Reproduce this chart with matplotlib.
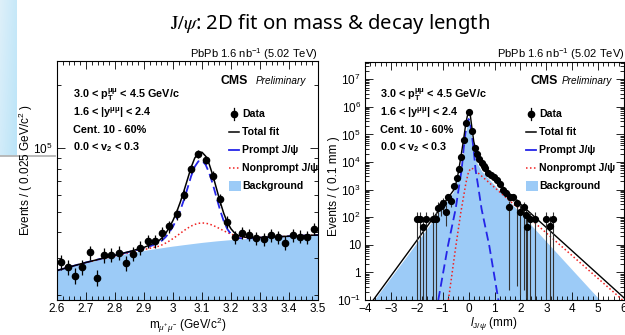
import numpy as np
import matplotlib.pyplot as plt
from matplotlib.lines import Line2D
from matplotlib.patches import Rectangle
from matplotlib.ticker import (MultipleLocator, LogLocator, FixedLocator,
                               FixedFormatter, NullFormatter, FuncFormatter)

plt.rcParams['font.family'] = ['Liberation Sans', 'DejaVu Sans']
plt.rcParams['mathtext.fontset'] = 'custom'
plt.rcParams['mathtext.rm'] = 'Liberation Sans'
plt.rcParams['mathtext.it'] = 'Liberation Sans:italic'
plt.rcParams['mathtext.bf'] = 'Liberation Sans:bold'

# ---- dimuon mass fit (events / 0.025 GeV/c^2) ----
mass_bins = [2.6125, 2.6375, 2.6625, 2.6875, 2.7125, 2.7375, 2.7625, 2.7875, 2.8125,
             2.8375, 2.8625, 2.8875, 2.9125, 2.9375, 2.9625, 2.9875, 3.0125, 3.0375,
             3.0625, 3.0875, 3.1125, 3.1375, 3.1625, 3.1875, 3.2125, 3.2375, 3.2625,
             3.2875, 3.3125, 3.3375, 3.3625, 3.3875, 3.4125, 3.4375, 3.4625, 3.4875]
mass_counts = [28700, 27200, 24800, 27200, 32000, 24200, 31000, 31100, 31800,
               28400, 31500, 33700, 36100, 36100, 39400, 42500, 48700, 60000,
               79700, 94400, 88400, 74100, 57100, 44800, 37800, 39600, 38800,
               37400, 37000, 38700, 37800, 35500, 38700, 38000, 37700, 41300]
mass_err = [2300, 2200, 2100, 2200, 2400, 2100, 2400, 2400, 2400,
            2300, 2400, 2500, 2600, 2600, 2700, 2800, 3000, 3300,
            3800, 4100, 4000, 3700, 3200, 2900, 2700, 2700, 2700,
            2700, 2600, 2700, 2700, 2600, 2700, 2700, 2700, 2800]

mass_grid = [2.60, 2.65, 2.70, 2.75, 2.80, 2.85, 2.90, 2.925,
             2.95, 2.9625, 2.975, 2.9875, 3.0, 3.0125, 3.025, 3.0375, 3.05, 3.0625,
             3.075, 3.0875, 3.1, 3.1125, 3.125, 3.1375, 3.15, 3.1625, 3.175, 3.1875,
             3.2, 3.2125, 3.225,
             3.25, 3.275, 3.3, 3.35, 3.4, 3.45, 3.5]
mass_bkg = [26200, 27400, 28600, 29700, 30800, 31800, 32700, 33100,
            33500, 33700, 33900, 34100, 34300, 34470, 34650, 34830, 35000, 35180,
            35350, 35530, 35700, 35850, 36000, 36150, 36300, 36430, 36550, 36680,
            36800, 36900, 37000,
            37200, 37400, 37600, 37900, 38200, 38450, 38700]
mass_prompt = [30, 40, 60, 100, 200, 400, 800, 1300,
               2000, 2800, 4000, 5800, 8200, 11500, 16000, 22000, 29500, 38500,
               46400, 51200, 51600, 47700, 40300, 31200, 22100, 14300, 8500, 4600,
               2300, 1000, 400,
               60, 10, 0, 0, 0, 0, 0]
mass_nonprompt = [0, 0, 0, 0, 10, 100, 300, 500,
                  710, 1060, 1550, 2170, 2920, 3800, 4760, 5750, 6690, 7500,
                  8110, 8440, 8470, 8200, 7640, 6860, 5940, 4960, 3990, 3090,
                  2310, 1660, 1150,
                  500, 220, 80, 10, 0, 0, 0]

# ---- pseudo-proper decay length fit (events / 0.1 mm) ----
ctau_x = [-1.98, -1.88, -1.77, -1.65, -1.36, -1.25, -1.17, -1.07, -0.97, -0.88,
          -0.78, -0.68, -0.56, -0.46, -0.37, -0.28, -0.19, -0.09, 0.01, 0.12,
          0.24, 0.34, 0.42, 0.50, 0.58, 0.65, 0.74, 0.85, 0.97, 1.08,
          1.20, 1.33, 1.44, 1.56, 1.58, 1.70, 1.86, 1.98, 2.13, 2.20,
          2.27, 2.37, 2.56, 2.99, 3.14, 3.27]
ctau_y = [85, 85, 45, 85, 85, 85, 220, 260, 320, 160,
          520, 380, 1300, 2700, 5500, 15000, 65000, 250000, 660000, 130000,
          32000, 19000, 13000, 9400, 7000, 5900, 3900, 3400, 2800, 2200,
          1600, 980, 780, 240, 550, 550, 316, 158, 230, 120,
          45, 85, 85, 85, 50, 85]
ctau_err_lo = [85, 85, 45, 85, 85, 85, 150, 150, 160, 110,
               150, 140, 250, 350, 500, 800, 1700, 3300, 5500, 2400,
               1200, 900, 750, 650, 550, 500, 420, 390, 360, 320,
               270, 210, 190, 240, 160, 160, 316, 158, 230, 120,
               45, 85, 85, 85, 50, 85]
ctau_err_hi = [75, 75, 60, 75, 75, 75, 150, 150, 160, 110,
               150, 140, 250, 350, 500, 800, 1700, 3300, 5500, 2400,
               1200, 900, 750, 650, 550, 500, 420, 390, 360, 320,
               270, 210, 190, 150, 160, 160, 130, 110, 130, 100,
               60, 75, 75, 75, 60, 75]

ctau_bkg_x = [-3.65, -2.0, -1.0, -0.6, -0.4, -0.25, -0.12, -0.05, 0.0, 0.05,
              0.12, 0.2, 0.3, 0.5, 2.0, 5.07]
ctau_bkg_y = [0.1, 12, 240, 800, 2500, 12000, 80000, 300000, 450000, 300000,
              80000, 25000, 10000, 4700, 138, 0.1]
ctau_tot_x = [-3.68, -0.53, -0.4, -0.3, -0.2, -0.1, 0.0, 0.05, 0.1, 0.2,
              0.3, 0.5, 0.75, 1.0, 1.5, 2.0, 6.0]
ctau_tot_y = [0.1, 1100, 4000, 15000, 60000, 280000, 750000, 650000, 280000, 55000,
              23000, 9000, 4500, 2600, 850, 300, 0.12]
ctau_pr_x = [-1.17, -0.8, -0.5, -0.36, -0.27, -0.2, -0.12, -0.06, 0.0, 0.06,
             0.12, 0.2, 0.27, 0.36, 0.5, 0.8, 1.15]
ctau_pr_y = [0.1, 9, 200, 1500, 5100, 25000, 110000, 250000, 360000, 250000,
             110000, 25000, 5100, 1500, 200, 9, 0.1]
ctau_np_x = [-0.78, -0.5, -0.3, -0.1, 0.0, 0.1, 0.2, 6.0]
ctau_np_y = [0.1, 8, 150, 1800, 4500, 6000, 5500, 0.09]

ctau_ticks = [0.1, 1, 10, 1e2, 1e3, 1e4, 1e5, 1e6, 1e7]
ctau_ticklabels = ['$10^{-1}$', '1', '10', '$10^{2}$', '$10^{3}$', '$10^{4}$',
                   '$10^{5}$', '$10^{6}$', '$10^{7}$']

cut_lines = [r'3.0 < $\mathbf{p}_{\mathbf{T}}^{\mathbf{\mu\mu}}$ < 4.5 GeV/c',
             r'1.6 < |$\mathbf{y}^{\mathbf{\mu\mu}}$| < 2.4',
             'Cent. 10 - 60%',
             r'0.0 < $\mathbf{v}_{\mathbf{2}}$ < 0.3']
legend_labels = ['Data', 'Total fit', 'Prompt J/ψ', 'Nonprompt J/ψ', 'Background']

BKG_COLOR = '#9ccbf7'
BLUE = '#2424e8'
RED = '#f02020'

W, H = 625, 335


def fx(px):
    return px / W


def fy(py):
    return 1 - py / H


fig = plt.figure(figsize=(W / 100, H / 100), dpi=100)

# slide decoration on the left edge
bg = fig.add_axes([0, 0, 1, 1], zorder=-10)
bg.axis('off')
gx = np.linspace(0, 1, 32)[None, :]
gy = np.linspace(0, 1, 64)[:, None]
top = np.array([222, 240, 250]) / 255
bot = np.array([186, 228, 248]) / 255
strip = top + (bot - top) * (0.35 * gy + 0.65 * gx)[..., None]
bg.imshow(strip, extent=(0, 17, 156, 0), aspect='auto', interpolation='bilinear')
bg.plot([0, 55], [156, 156], color='#b4b4b4', lw=1.3)
bg.set_xlim(0, W)
bg.set_ylim(H, 0)

fig.text(fx(330), fy(24), r'$\mathrm{J}/\psi$' + ': 2D fit on mass & decay length',
         ha='center', va='center', fontsize=14.6, family='Noto Sans',
         math_fontfamily='stix')


def style_axes(ax):
    for sp in ax.spines.values():
        sp.set_linewidth(0.8)
    ax.tick_params(which='both', direction='in', top=True, right=True,
                   width=0.6, labelsize=8.5)
    ax.tick_params(axis='x', pad=2.5)
    ax.tick_params(axis='y', pad=3)
    ax.tick_params(which='major', length=6)
    ax.tick_params(which='minor', length=3)


def draw_texts(x_cut, x_leg, right_edge, cms_right, prelim_right):
    fig.text(fx(right_edge), fy(54), r'PbPb 1.6 nb$^{-1}$ (5.02 TeV)',
             ha='right', va='center', fontsize=8)
    fig.text(fx(cms_right), fy(81), 'CMS', ha='right', va='center',
             fontsize=8.8, weight='bold')
    fig.text(fx(prelim_right), fy(81), 'Preliminary', ha='right', va='center',
             fontsize=7.2, style='italic')
    for i, s in enumerate(cut_lines):
        fig.text(fx(x_cut), fy(95 + 17.5 * i), s, ha='left', va='center',
                 fontsize=7.8, weight='bold')
    rows = [114, 132, 150, 168, 186]
    for y, s in zip(rows, legend_labels):
        fig.text(fx(x_leg), fy(y), s, ha='left', va='center', fontsize=7.6,
                 weight='bold')
    hx0, hx1 = x_leg - 13, x_leg - 3
    hm = (hx0 + hx1) / 2
    tr = fig.transFigure
    fig.add_artist(Line2D([fx(hm)], [fy(rows[0])], marker='o', ms=4.5,
                          color='k', transform=tr))
    fig.add_artist(Line2D([fx(hm), fx(hm)], [fy(rows[0] - 6), fy(rows[0] + 6)],
                          color='k', lw=0.9, transform=tr))
    fig.add_artist(Line2D([fx(hx0), fx(hx1)], [fy(rows[1])] * 2, color='k',
                          lw=1.1, transform=tr))
    fig.add_artist(Line2D([fx(hx0), fx(hx1)], [fy(rows[2])] * 2, color=BLUE,
                          lw=1.3, transform=tr))
    fig.add_artist(Line2D([fx(hx0), fx(hx1)], [fy(rows[3])] * 2, color=RED,
                          lw=1.1, ls=(0, (1, 1.6)), transform=tr))
    fig.add_artist(Rectangle((fx(hx0), fy(rows[4] + 5)), fx(12), 10 / H,
                             color=BKG_COLOR, lw=0, transform=tr))


# ---- left panel: mass ----
axL = fig.add_axes([fx(57), fy(300), fx(318 - 57), (300 - 61) / H])
bkg = np.array(mass_bkg)
pr = np.array(mass_prompt)
npr = np.array(mass_nonprompt)
axL.fill_between(mass_grid, 1e3, bkg, color=BKG_COLOR, lw=0)
axL.plot(mass_grid, bkg + npr, color=RED, lw=1.1, ls=(0, (1, 1.6)))
axL.plot(mass_grid, bkg + pr, color=BLUE, lw=1.3, ls=(0, (5, 2.5)))
axL.plot(mass_grid, bkg + pr + npr, color='k', lw=1.1)
axL.errorbar(mass_bins, mass_counts, yerr=mass_err, fmt='o', color='k', ms=4.5,
             elinewidth=0.9, capsize=0)
axL.set_yscale('log')
axL.set_xlim(2.6, 3.5)
axL.set_ylim(1.9e4, 2.6e5)
axL.xaxis.set_major_locator(MultipleLocator(0.1))
axL.xaxis.set_minor_locator(MultipleLocator(0.02))
axL.xaxis.set_major_formatter(FuncFormatter(lambda v, _: '%g' % round(v, 2)))
axL.yaxis.set_major_locator(FixedLocator([1e5]))
axL.yaxis.set_major_formatter(FixedFormatter(['$10^{5}$']))
axL.yaxis.set_minor_locator(LogLocator(base=10, subs=range(2, 10)))
axL.yaxis.set_minor_formatter(NullFormatter())
style_axes(axL)
fig.text(fx(26), fy(236), r'Events / ( 0.025 GeV/c$^{2}$ )', rotation=90,
         ha='center', va='bottom', fontsize=8.5)
fig.text(fx(188), fy(325), r'm$_{\mu^{+}\mu^{-}}$ (GeV/c$^{2}$)', ha='center',
         va='center', fontsize=8.5)
draw_texts(73, 242, 317, 248, 306)

# ---- right panel: decay length ----
axR = fig.add_axes([fx(365), fy(300), fx(624 - 365), (300 - 62) / H])
axR.fill_between(ctau_bkg_x, 1e-3, ctau_bkg_y, color=BKG_COLOR, lw=0)
axR.plot(ctau_np_x, ctau_np_y, color=RED, lw=1.1, ls=(0, (1, 1.6)))
axR.plot(ctau_pr_x, ctau_pr_y, color=BLUE, lw=1.3, ls=(0, (5, 2.5)))
axR.plot(ctau_tot_x, ctau_tot_y, color='k', lw=1.0)
lo = [min(e, v * 0.999) for e, v in zip(ctau_err_lo, ctau_y)]
axR.errorbar(ctau_x, ctau_y, yerr=[lo, ctau_err_hi], fmt='o', color='k',
             ms=4.2, elinewidth=0.8, ecolor='#333333', capsize=0)
axR.set_yscale('log')
axR.set_xlim(-4, 6)
axR.set_ylim(0.1, 4.2e7)
axR.xaxis.set_major_locator(MultipleLocator(1))
axR.xaxis.set_minor_locator(MultipleLocator(0.2))
axR.xaxis.set_major_formatter(
    FuncFormatter(lambda v, _: ('%g' % v).replace('-', '\u2212')))
axR.yaxis.set_major_locator(FixedLocator(ctau_ticks))
axR.yaxis.set_major_formatter(FixedFormatter(ctau_ticklabels))
axR.yaxis.set_minor_locator(LogLocator(base=10, subs=range(2, 10), numticks=30))
axR.yaxis.set_minor_formatter(NullFormatter())
style_axes(axR)
fig.text(fx(334), fy(236), 'Events / ( 0.1 mm )', rotation=90,
         ha='center', va='bottom', fontsize=8.5)
fig.text(fx(494), fy(324), r'$l_{\mathrm{J}/\psi}$ (mm)', ha='center',
         va='center', fontsize=8.5)
draw_texts(380, 539, 624, 558, 612)

fig.savefig('out.png', dpi=100)
